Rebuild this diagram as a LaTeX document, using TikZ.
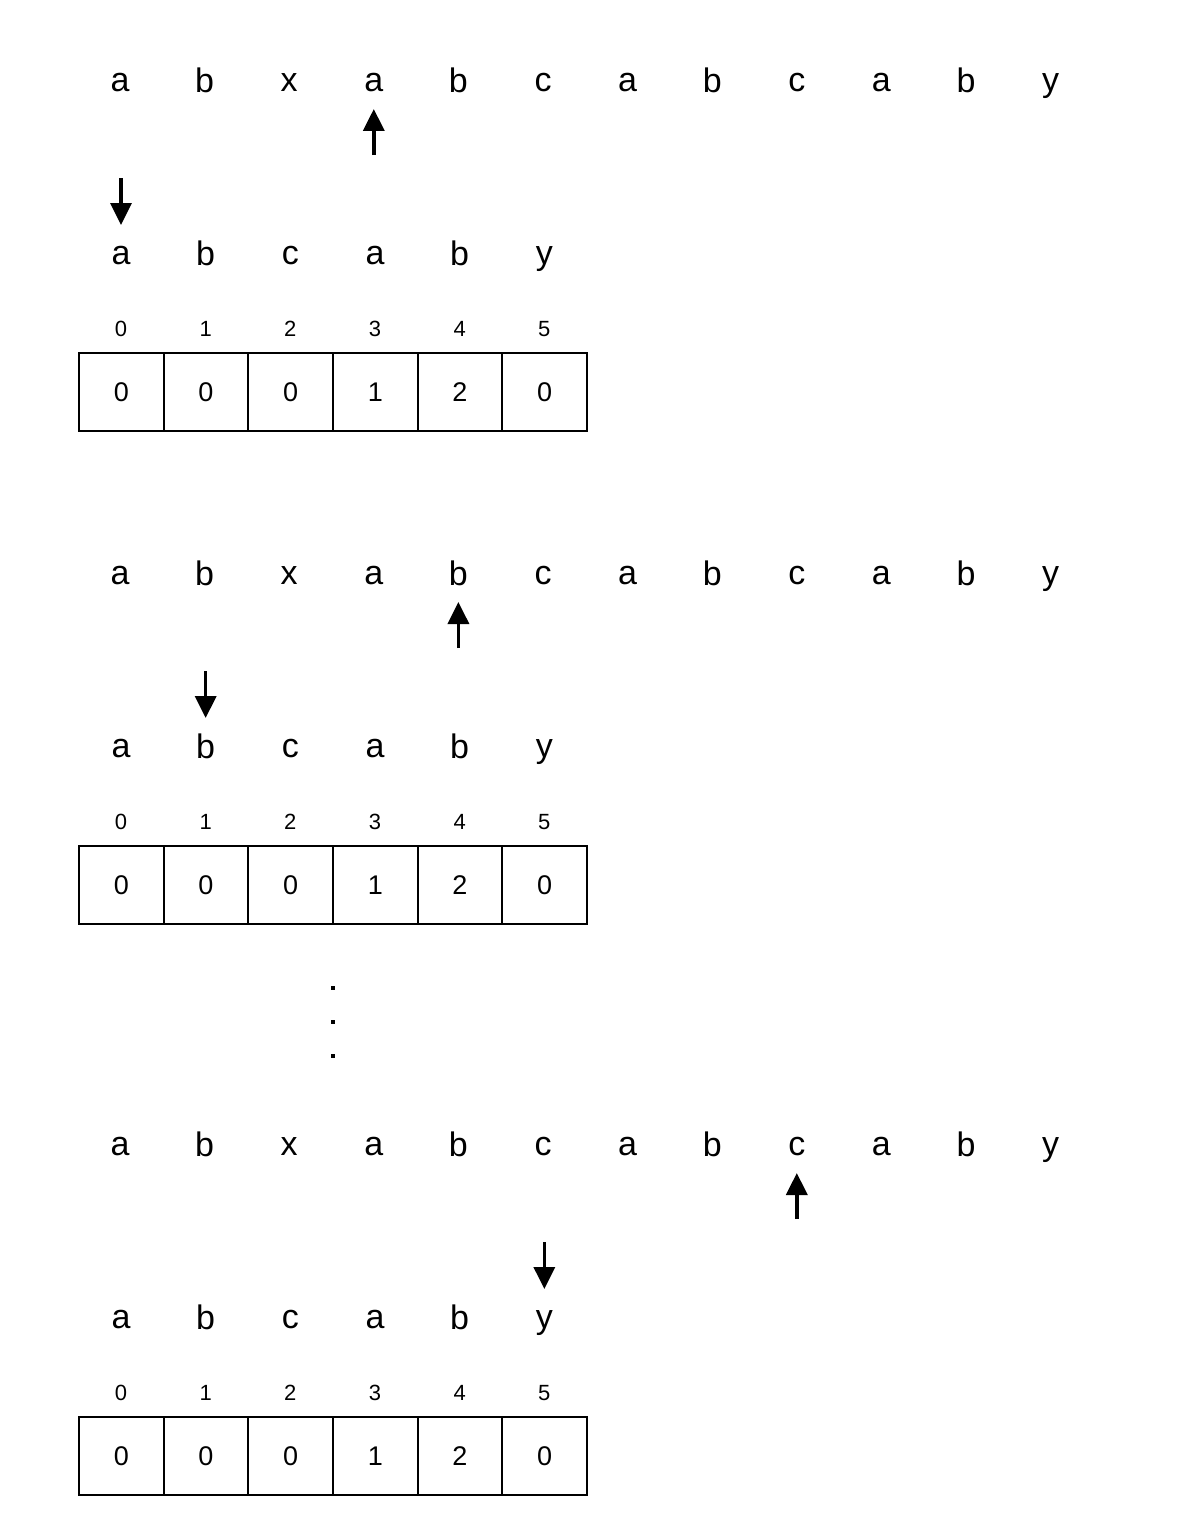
\documentclass[tikz,border=0pt]{standalone}
\usepackage{fontspec}
\setmainfont{Liberation Sans}
\usetikzlibrary{arrows.meta}

\tikzset{
    letter/.style={inner sep=0pt, font=\fontsize{34}{34}\selectfont},
    index/.style={inner sep=0pt, font=\fontsize{22}{22}\selectfont},
    cell/.style={draw, line width=2pt, minimum width=84.67pt, minimum height=78pt,
        inner sep=0pt, font=\fontsize{27}{27}\selectfont},
    pointer/.style={line width=3.5pt, -{Triangle[width=21pt,length=22pt]}, shorten >=-1pt}
}

\begin{document}
\begin{tikzpicture}[x=1pt, y=-1pt]

    % Canvas
    \useasboundingbox (0, 0) rectangle (1190, 1536);

    % Three steps: text row, pattern row, index row, table
    \foreach \b/\oy/\up/\dn in {1/80/4/1, 2/573/5/2, 3/1144/9/6} {

        % Text
        \foreach \ch [count=\i] in {a,b,x,a,b,c,a,b,c,a,b,y}
            \node[letter] (s\b-\i) at ({120 + 84.6*(\i-1)}, \oy + 5) {\strut\ch};

        % Pattern
        \foreach \ch [count=\i] in {a,b,c,a,b,y}
            \node[letter] (p\b-\i) at ({121 + 84.67*(\i-1)}, \oy + 178) {\strut\ch};

        % Indices
        \foreach \i in {0,...,5}
            \node[index] (k\b-\i) at ({121 + 84.67*\i}, \oy + 249) {\i};

        % Table
        \foreach \v [count=\i from 0] in {0,0,0,1,2,0}
            \node[cell] (c\b-\i) at ({121.3 + 84.67*\i}, \oy + 312) {\v};

        % Pointers
        \coordinate (ua\b) at ({120 + 84.6*(\up-1)}, \oy + 75);
        \coordinate (ub\b) at ({120 + 84.6*(\up-1)}, \oy + 30);
        \draw[pointer] (ua\b) -- (ub\b);
        \coordinate (da\b) at ({121 + 84.67*(\dn-1)}, \oy + 98);
        \coordinate (db\b) at ({121 + 84.67*(\dn-1)}, \oy + 144);
        \draw[pointer] (da\b) -- (db\b);
    }

    % Dots
    \foreach \y in {988, 1022, 1056}
        \fill (331, \y - 2) rectangle (335, \y + 2);

\end{tikzpicture}
\end{document}
